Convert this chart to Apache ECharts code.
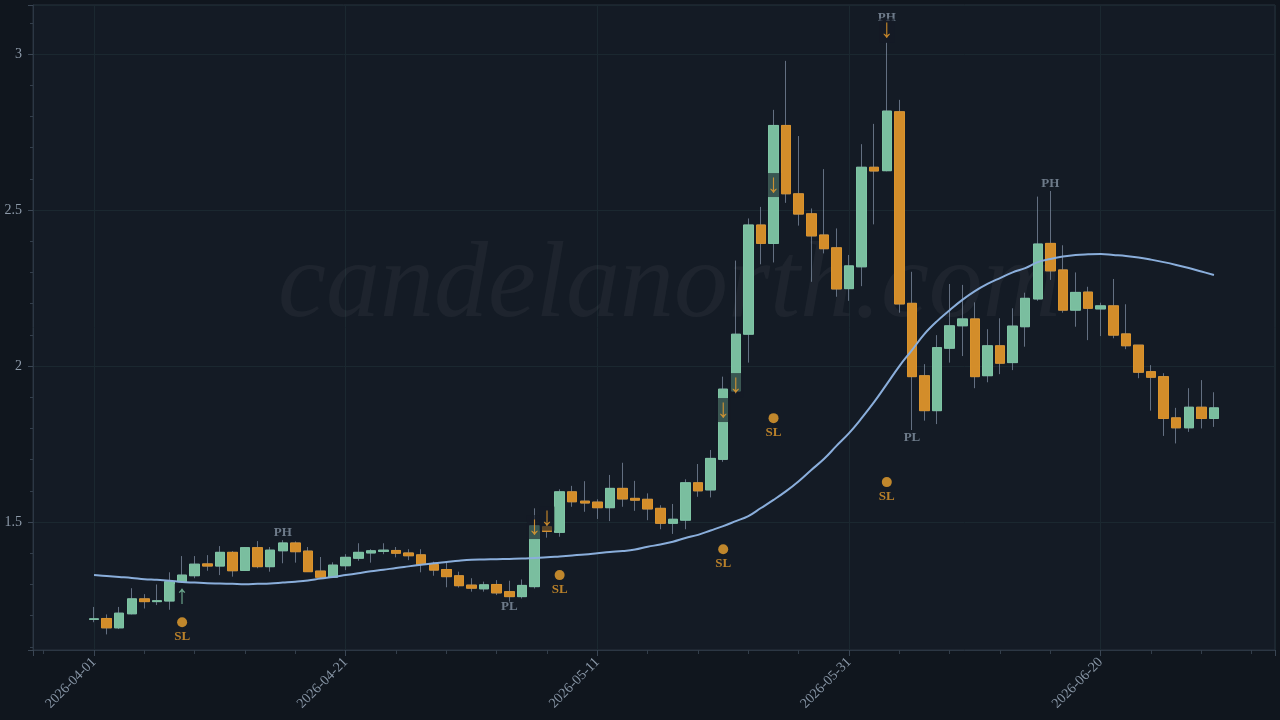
<!DOCTYPE html>
<html>
<head>
<meta charset="utf-8">
<script src="https://cdn.jsdelivr.net/npm/echarts@6/dist/echarts.min.js"></script>
<style>
  html, body { margin: 0; background: #10161e; }
  #chart { width: 1280px; height: 720px; }
</style>
</head>
<body>
<div id="chart"></div>
<script>
// dates (one candle per calendar day)
var dates = [
  "2026-04-01","2026-04-02","2026-04-03","2026-04-04","2026-04-05","2026-04-06","2026-04-07","2026-04-08","2026-04-09","2026-04-10",
  "2026-04-11","2026-04-12","2026-04-13","2026-04-14","2026-04-15","2026-04-16","2026-04-17","2026-04-18","2026-04-19","2026-04-20",
  "2026-04-21","2026-04-22","2026-04-23","2026-04-24","2026-04-25","2026-04-26","2026-04-27","2026-04-28","2026-04-29","2026-04-30",
  "2026-05-01","2026-05-02","2026-05-03","2026-05-04","2026-05-05","2026-05-06","2026-05-07","2026-05-08","2026-05-09","2026-05-10",
  "2026-05-11","2026-05-12","2026-05-13","2026-05-14","2026-05-15","2026-05-16","2026-05-17","2026-05-18","2026-05-19","2026-05-20",
  "2026-05-21","2026-05-22","2026-05-23","2026-05-24","2026-05-25","2026-05-26","2026-05-27","2026-05-28","2026-05-29","2026-05-30",
  "2026-05-31","2026-06-01","2026-06-02","2026-06-03","2026-06-04","2026-06-05","2026-06-06","2026-06-07","2026-06-08","2026-06-09",
  "2026-06-10","2026-06-11","2026-06-12","2026-06-13","2026-06-14","2026-06-15","2026-06-16","2026-06-17","2026-06-18","2026-06-19",
  "2026-06-20","2026-06-21","2026-06-22","2026-06-23","2026-06-24","2026-06-25","2026-06-26","2026-06-27","2026-06-28","2026-06-29"
];
var opens = [
  1.188,1.191,1.161,1.206,1.254,1.245,1.247,1.309,1.328,1.366,
  1.359,1.403,1.345,1.418,1.357,1.408,1.433,1.407,1.343,1.323,
  1.360,1.384,1.401,1.406,1.409,1.401,1.395,1.364,1.348,1.328,
  1.298,1.286,1.300,1.277,1.261,1.293,1.485,1.467,1.597,1.567,
  1.564,1.546,1.608,1.576,1.573,1.544,1.496,1.506,1.626,1.603,
  1.701,1.920,2.102,2.452,2.393,2.771,2.552,2.488,2.420,2.379,
  2.248,2.318,2.637,2.626,2.815,2.201,1.969,1.857,2.057,2.129,
  2.151,1.969,2.065,2.011,2.126,2.215,2.393,2.308,2.179,2.237,
  2.183,2.193,2.103,2.067,1.982,1.966,1.834,1.802,1.868,1.832
];
var closes = [
  1.190,1.161,1.208,1.254,1.245,1.248,1.309,1.330,1.365,1.359,
  1.403,1.344,1.418,1.357,1.410,1.433,1.405,1.341,1.323,1.362,
  1.387,1.403,1.408,1.410,1.400,1.392,1.364,1.346,1.325,1.296,
  1.288,1.299,1.273,1.261,1.297,1.488,1.470,1.597,1.565,1.561,
  1.546,1.608,1.574,1.570,1.542,1.496,1.509,1.626,1.600,1.704,
  1.926,2.102,2.452,2.393,2.771,2.552,2.487,2.417,2.376,2.247,
  2.321,2.637,2.625,2.817,2.199,1.966,1.857,2.059,2.129,2.151,
  1.966,2.065,2.009,2.128,2.217,2.391,2.305,2.179,2.236,2.185,
  2.193,2.099,2.065,1.980,1.964,1.832,1.802,1.868,1.832,1.866
];
var lows = [
  1.179,1.140,1.157,1.204,1.223,1.234,1.219,1.305,1.320,1.344,
  1.330,1.325,1.344,1.352,1.341,1.368,1.370,1.340,1.320,1.321,
  1.346,1.376,1.370,1.397,1.387,1.378,1.339,1.328,1.291,1.290,
  1.277,1.277,1.266,1.245,1.255,1.287,1.450,1.453,1.549,1.533,
  1.510,1.503,1.549,1.536,1.506,1.477,1.462,1.477,1.581,1.579,
  1.693,1.910,2.011,2.326,2.332,2.523,2.450,2.270,2.361,2.222,
  2.209,2.256,2.454,2.624,2.171,1.795,1.825,1.814,2.011,2.032,
  1.929,1.948,1.974,1.987,2.062,2.209,2.276,2.171,2.126,2.083,
  2.096,2.089,2.054,1.961,1.857,1.776,1.752,1.789,1.800,1.805
];
var highs = [
  1.228,1.204,1.228,1.288,1.269,1.300,1.339,1.391,1.391,1.394,
  1.423,1.407,1.420,1.439,1.420,1.442,1.438,1.420,1.388,1.371,
  1.397,1.432,1.413,1.432,1.420,1.413,1.413,1.373,1.373,1.341,
  1.320,1.309,1.314,1.312,1.316,1.544,1.495,1.605,1.616,1.631,
  1.573,1.651,1.690,1.632,1.592,1.554,1.558,1.637,1.686,1.731,
  1.966,2.338,2.473,2.510,2.821,2.978,2.737,2.505,2.631,2.441,
  2.356,2.711,2.776,3.036,2.853,2.302,2.006,2.099,2.263,2.260,
  2.204,2.118,2.153,2.185,2.235,2.543,2.561,2.387,2.300,2.254,
  2.203,2.279,2.198,2.067,2.003,1.977,1.866,1.929,1.955,1.916
];
// smoothed moving average
var maLine = [
  1.330,1.327,1.324,1.321,1.317,1.315,1.312,1.308,1.306,1.304,
  1.303,1.302,1.301,1.302,1.303,1.306,1.309,1.313,1.319,1.324,
  1.330,1.336,1.342,1.347,1.353,1.358,1.363,1.368,1.372,1.376,
  1.379,1.380,1.381,1.382,1.383,1.385,1.387,1.390,1.393,1.396,
  1.400,1.404,1.407,1.412,1.421,1.428,1.437,1.449,1.459,1.473,
  1.487,1.503,1.519,1.545,1.571,1.599,1.631,1.667,1.702,1.744,
  1.785,1.833,1.885,1.942,2.000,2.051,2.103,2.144,2.179,2.212,
  2.240,2.263,2.282,2.300,2.314,2.333,2.343,2.351,2.356,2.358,
  2.359,2.356,2.353,2.348,2.341,2.333,2.324,2.314,2.303,2.292
];
// pivot labels
var pivotHighIdx = [15, 63, 76];
var pivotHighVal = [1.465, 3.115, 2.583];
var pivotLowIdx = [33, 65];
var pivotLowVal = [1.228, 1.772];
// signals
var sellIdx = [35, 36, 50, 51, 54, 63];
var sellVal = [1.484, 1.511, 1.859, 1.939, 2.580, 3.075];
var buyIdx = [7];
var buyVal = [1.263];
var stopIdx = [7, 37, 50, 54, 63];
var stopVal = [1.179, 1.330, 1.413, 1.833, 1.628];

var GREEN = "#7fc7a5";
var ORANGE = "#dd932a";
var WICK = "rgba(125,140,160,0.75)";
var FONT = "Liberation Serif";

var wickData = [], bodyData = [], maData = [];
for (var i = 0; i < dates.length; i++) {
  wickData.push([i, opens[i], closes[i], lows[i], highs[i]]);
  bodyData.push([i, opens[i], closes[i], Math.min(opens[i], closes[i]), Math.max(opens[i], closes[i])]);
  maData.push([i, maLine[i]]);
}
function pairs(idx, val) {
  return idx.map(function (d, k) { return [d, val[k]]; });
}

var chart = echarts.init(document.getElementById("chart"));
var option = {
  backgroundColor: "#10161e",
  animation: false,
  textStyle: { fontFamily: FONT },
  graphic: [{
    type: "text",
    z: 1,
    x: 278,
    y: 288,
    style: {
      text: "candelanorth.com",
      font: "italic 108px 'Liberation Serif'",
      fill: "rgba(255,255,255,0.045)",
      textVerticalAlign: "middle"
    }
  }],
  grid: {
    left: 33, right: 5, top: 5, bottom: 70,
    show: true,
    backgroundColor: "#141b25",
    borderColor: "#28323e",
    borderWidth: 1
  },
  xAxis: {
    type: "value",
    min: -4.85,
    max: 93.85,
    splitNumber: 5,
    axisLine: { show: true, onZero: false, lineStyle: { color: "#2c3744" } },
    axisTick: { show: true, length: 6, lineStyle: { color: "#3a4654" } },
    minorTick: { show: true, splitNumber: 5, length: 4, lineStyle: { color: "#333e4b" } },
    splitLine: { show: true, lineStyle: { color: "#1b2830" } },
    axisLabel: {
      rotate: 45,
      margin: 10,
      color: "#8795a5",
      fontSize: 14,
      fontFamily: FONT,
      showMinLabel: false,
      showMaxLabel: false,
      formatter: function (v) {
        return (Math.round(v) === v && dates[v]) ? dates[v] : "";
      }
    }
  },
  yAxis: {
    type: "value",
    min: 1.09,
    max: 3.157,
    splitNumber: 5,
    axisLine: { show: true, onZero: false, lineStyle: { color: "#2c3744" } },
    axisTick: { show: true, length: 5, lineStyle: { color: "#3a4654" } },
    minorTick: { show: true, splitNumber: 5, length: 3, lineStyle: { color: "#333e4b" } },
    splitLine: { show: true, lineStyle: { color: "#1b2830" } },
    axisLabel: {
      margin: 11,
      color: "#8d9aa9",
      fontSize: 14,
      fontFamily: FONT,
      showMinLabel: false,
      showMaxLabel: false
    }
  },
  series: [
    {
      name: "wick",
      type: "candlestick",
      barWidth: 10,
      data: wickData,
      encode: { x: 0, y: [1, 2, 3, 4] },
      itemStyle: {
        color: "transparent", color0: "transparent",
        borderColor: WICK, borderColor0: WICK, borderWidth: 1
      },
      z: 3
    },
    {
      name: "body",
      type: "candlestick",
      barWidth: 10,
      data: bodyData,
      encode: { x: 0, y: [1, 2, 3, 4] },
      itemStyle: {
        color: GREEN, color0: ORANGE,
        borderColor: GREEN, borderColor0: ORANGE, borderWidth: 1, opacity: 0.95
      },
      z: 4
    },
    {
      name: "MA",
      type: "line",
      data: maData,
      smooth: 0.4,
      symbol: "none",
      lineStyle: { color: "#8aaedb", width: 2 },
      z: 5
    },
    {
      name: "PH",
      type: "scatter",
      data: pairs(pivotHighIdx, pivotHighVal),
      symbolSize: 1,
      itemStyle: { color: "transparent" },
      label: {
        show: true, position: "inside", formatter: "PH",
        color: "#8593a4", fontWeight: "bold", fontSize: 13, fontFamily: FONT
      },
      z: 6
    },
    {
      name: "PL",
      type: "scatter",
      data: pairs(pivotLowIdx, pivotLowVal),
      symbolSize: 1,
      itemStyle: { color: "transparent" },
      label: {
        show: true, position: "inside", formatter: "PL",
        color: "#8593a4", fontWeight: "bold", fontSize: 13, fontFamily: FONT
      },
      z: 6
    },
    {
      name: "SL",
      type: "scatter",
      data: pairs(stopIdx, stopVal),
      symbol: "circle",
      symbolSize: 10,
      itemStyle: { color: "#eba22e" },
      label: {
        show: true, position: "bottom", distance: 3, formatter: "SL",
        color: "#e39b2c", fontWeight: "bold", fontSize: 13, fontFamily: FONT
      },
      z: 7
    },
    {
      name: "buy",
      type: "scatter",
      data: pairs(buyIdx, buyVal),
      symbolSize: 1,
      itemStyle: { color: "transparent" },
      label: {
        show: true, position: "inside", formatter: "\u2191",
        color: GREEN, fontSize: 26, fontWeight: "bold", fontFamily: FONT,
        backgroundColor: "rgba(20,27,37,0.8)", padding: [0, 1], lineHeight: 24
      },
      z: 8
    },
    {
      name: "sell",
      type: "scatter",
      data: pairs(sellIdx, sellVal),
      symbolSize: 1,
      itemStyle: { color: "transparent" },
      label: {
        show: true, position: "inside", formatter: "\u2193",
        color: "#f0a02c", fontSize: 26, fontWeight: "bold", fontFamily: FONT,
        backgroundColor: "rgba(20,27,37,0.8)", padding: [0, 1], lineHeight: 24
      },
      z: 8
    }
  ]
};
chart.setOption(option);
</script>
</body>
</html>
